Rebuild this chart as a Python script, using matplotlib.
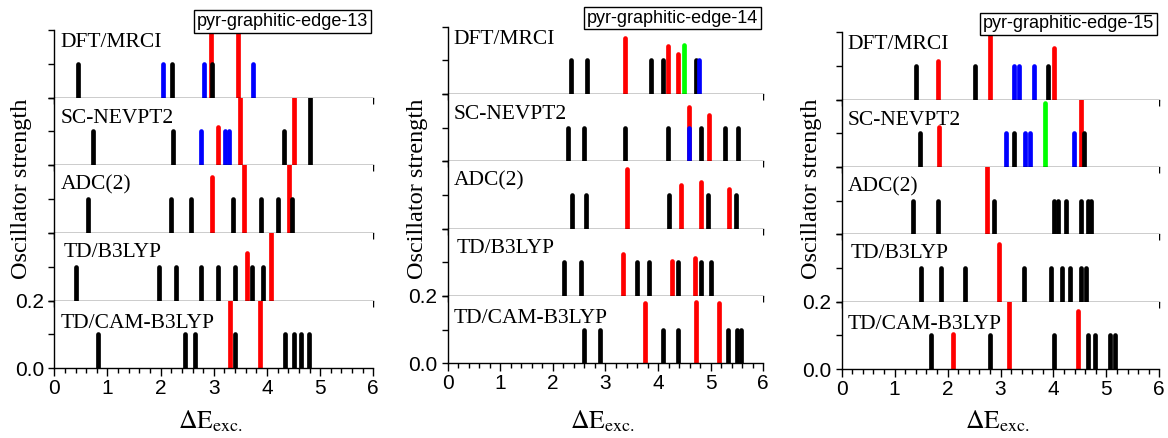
import matplotlib
import matplotlib.pyplot as plt

matplotlib.use('agg')

plt.rcParams['mathtext.fontset'] = 'stix'

methods = ['DFT/MRCI', 'SC-NEVPT2', 'ADC(2)', 'TD/B3LYP', 'TD/CAM-B3LYP']
titles = ['pyr-graphitic-edge-13', 'pyr-graphitic-edge-14', 'pyr-graphitic-edge-15']
colour_codes = {'k': 'black', 'r': '#ff0000', 'b': '#0000ff', 'g': '#00ff00'}

# edge-13: excitation energies, oscillator strengths, bar colours
e13_mrci_x = [0.45, 2.05, 2.22, 2.82, 2.94, 2.97, 3.45, 3.73]
e13_mrci_f = [0.1, 0.1, 0.1, 0.1, 0.25, 0.1, 0.25, 0.1]
e13_mrci_c = 'kbkbrkrb'
e13_nevpt_x = [0.73, 2.23, 2.75, 3.07, 3.22, 3.28, 3.49, 4.32, 4.50, 4.81]
e13_nevpt_f = [0.1, 0.1, 0.1, 0.114, 0.1, 0.1, 0.25, 0.1, 0.25, 0.25]
e13_nevpt_c = 'kkbrbbrkrk'
e13_adc_x = [0.63, 2.19, 2.58, 2.96, 3.37, 3.57, 3.88, 4.21, 4.41, 4.47]
e13_adc_f = [0.1, 0.1, 0.1, 0.166, 0.1, 0.25, 0.1, 0.1, 0.25, 0.1]
e13_adc_c = 'kkkrkrkkrk'
e13_b3lyp_x = [0.40, 1.97, 2.28, 2.76, 3.07, 3.39, 3.62, 3.72, 3.93, 4.08]
e13_b3lyp_f = [0.1, 0.1, 0.1, 0.1, 0.1, 0.1, 0.142, 0.1, 0.1, 0.25]
e13_b3lyp_c = 'kkkkkkrkkr'
e13_cam_x = [0.83, 2.46, 2.65, 3.30, 3.40, 3.86, 4.34, 4.50, 4.64, 4.79]
e13_cam_f = [0.1, 0.1, 0.1, 0.25, 0.1, 0.25, 0.1, 0.1, 0.1, 0.1]
e13_cam_c = 'kkkrkrkkkk'

# edge-14
e14_mrci_x = [2.34, 2.64, 3.38, 3.86, 4.09, 4.19, 4.37, 4.49, 4.72, 4.78]
e14_mrci_f = [0.1, 0.1, 0.167, 0.1, 0.1, 0.142, 0.119, 0.147, 0.1, 0.1]
e14_mrci_c = 'kkrkkrrgkb'
e14_nevpt_x = [2.29, 2.60, 3.38, 4.19, 4.59, 4.59, 4.82, 4.97, 5.27, 5.51]
e14_nevpt_f = [0.1, 0.1, 0.1, 0.1, 0.160, 0.1, 0.1, 0.137, 0.1, 0.1]
e14_nevpt_c = 'kkkkrbkrkk'
e14_adc_x = [2.36, 2.62, 3.41, 4.20, 4.44, 4.82, 4.95, 5.35, 5.49]
e14_adc_f = [0.1, 0.1, 0.177, 0.1, 0.129, 0.138, 0.1, 0.118, 0.1]
e14_adc_c = 'kkrkrrkrk'
e14_b3lyp_x = [2.22, 2.53, 3.34, 3.59, 3.83, 4.26, 4.37, 4.70, 4.82, 5.01]
e14_b3lyp_f = [0.1, 0.1, 0.125, 0.1, 0.1, 0.104, 0.1, 0.113, 0.1, 0.1]
e14_b3lyp_c = 'kkrkkrkrkk'
e14_cam_x = [2.60, 2.90, 3.76, 4.09, 4.37, 4.73, 5.16, 5.33, 5.50, 5.57]
e14_cam_f = [0.1, 0.1, 0.180, 0.1, 0.1, 0.182, 0.178, 0.1, 0.1, 0.1]
e14_cam_c = 'kkrkkrrkkk'

# edge-15
e15_mrci_x = [1.40, 1.81, 2.52, 2.80, 3.26, 3.35, 3.64, 3.90, 4.01]
e15_mrci_f = [0.1, 0.114, 0.1, 0.25, 0.1, 0.1, 0.1, 0.1, 0.154]
e15_mrci_c = 'krkrbbbkr'
e15_nevpt_x = [1.48, 1.83, 3.10, 3.25, 3.46, 3.55, 3.85, 4.39, 4.53, 4.58]
e15_nevpt_f = [0.1, 0.118, 0.1, 0.1, 0.1, 0.1, 0.189, 0.1, 0.25, 0.1]
e15_nevpt_c = 'krbkbbgbrk'
e15_adc_x = [1.34, 1.81, 2.75, 2.88, 4.02, 4.08, 4.23, 4.52, 4.65, 4.71]
e15_adc_f = [0.1, 0.1, 0.25, 0.1, 0.1, 0.1, 0.1, 0.1, 0.1, 0.1]
e15_adc_c = 'kkrkkkkkkk'
e15_b3lyp_x = [1.50, 1.88, 2.32, 2.98, 3.44, 3.96, 4.16, 4.31, 4.53, 4.61]
e15_b3lyp_f = [0.1, 0.1, 0.1, 0.171, 0.1, 0.1, 0.1, 0.1, 0.1, 0.1]
e15_b3lyp_c = 'kkkrkkkkkk'
e15_cam_x = [1.68, 2.10, 2.80, 3.17, 4.01, 4.46, 4.66, 4.79, 5.06, 5.17]
e15_cam_f = [0.1, 0.103, 0.1, 0.25, 0.1, 0.173, 0.1, 0.1, 0.1, 0.1]
e15_cam_c = 'krkrkrkkkk'

panels = [
    [(e13_mrci_x, e13_mrci_f, e13_mrci_c), (e13_nevpt_x, e13_nevpt_f, e13_nevpt_c),
     (e13_adc_x, e13_adc_f, e13_adc_c), (e13_b3lyp_x, e13_b3lyp_f, e13_b3lyp_c),
     (e13_cam_x, e13_cam_f, e13_cam_c)],
    [(e14_mrci_x, e14_mrci_f, e14_mrci_c), (e14_nevpt_x, e14_nevpt_f, e14_nevpt_c),
     (e14_adc_x, e14_adc_f, e14_adc_c), (e14_b3lyp_x, e14_b3lyp_f, e14_b3lyp_c),
     (e14_cam_x, e14_cam_f, e14_cam_c)],
    [(e15_mrci_x, e15_mrci_f, e15_mrci_c), (e15_nevpt_x, e15_nevpt_f, e15_nevpt_c),
     (e15_adc_x, e15_adc_f, e15_adc_c), (e15_b3lyp_x, e15_b3lyp_f, e15_b3lyp_c),
     (e15_cam_x, e15_cam_f, e15_cam_c)],
]

W, H = 1168, 438
fig = plt.figure(figsize=(W / 100, H / 100), dpi=100)

# pixel boxes of each panel: left, right, top, bottom
boxes = [(54.3, 373.3, 30.0, 368.3), (447.7, 763.3, 26.7, 363.3), (841.7, 1159.3, 32.3, 369.0)]
ylabel_x = [22, 417, 811]
label_dx = [6, 6, 6, 9, 6]
label_dy = [3, 11, 10, 10, 13]
serif = ['Liberation Serif', 'DejaVu Serif']
sans = ['Liberation Sans', 'DejaVu Sans']

for p, (left, right, top, bottom) in enumerate(boxes):
    h = (bottom - top) / 5
    for i in range(5):
        ax = fig.add_axes([left / W, 1 - (top + (i + 1) * h) / H, (right - left) / W, h / H])
        ax.set_xlim(0, 6)
        ax.set_ylim(0, 0.2)
        x, f, c = panels[p][i]
        ax.vlines(x, 0, f, colors=[colour_codes[k] for k in c], linewidth=3.4, capstyle='round')
        for side in ['top', 'right']:
            ax.spines[side].set_visible(False)
        for side in ['left', 'bottom']:
            ax.spines[side].set_linewidth(1.0)
        ax.set_yticks([0, 0.1, 0.2])
        ax.tick_params(axis='y', direction='out', length=4, width=1.0, labelsize=15)
        if i == 4:
            ax.set_xticks(range(7))
            ax.set_xticks([k * 0.2 for k in range(31)], minor=True)
            ax.tick_params(axis='x', which='major', direction='out', length=6, width=1.0, labelsize=15, pad=2)
            ax.tick_params(axis='x', which='minor', direction='out', length=3.5, width=1.0)
            ax.set_yticklabels(['0.0', '', '0.2'])
            for lab in ax.get_xticklabels() + ax.get_yticklabels():
                lab.set_family(sans)
        else:
            ax.set_xticks([k * 0.4 for k in range(16)])
            ax.tick_params(axis='x', direction='out', length=4.5, width=1.0, labelbottom=False)
            ax.set_yticklabels([])
        ax.annotate(methods[i], xy=(0, 1), xycoords='axes fraction',
                    xytext=(label_dx[i], -label_dy[i]), textcoords='offset pixels',
                    ha='left', va='top', fontsize=15.5, family=serif)

    fig.text(ylabel_x[p] / W, 1 - 189 / H, 'Oscillator strength', rotation=90,
             ha='center', va='center', fontsize=17.5, family=serif)
    fig.text(((left + right) / 2 - 3) / W, 10 / H, r'$\Delta\mathrm{E}_{\mathrm{exc.}}$',
             ha='center', va='baseline', fontsize=18.5)
    fig.text((right - 91) / W, 1 - (top - 8.5) / H, titles[p], ha='center', va='center',
             fontsize=13, family=sans,
             bbox=dict(boxstyle='square,pad=0.15', fc='white', ec='black', lw=1.0))

fig.savefig('out.png', dpi=100)
